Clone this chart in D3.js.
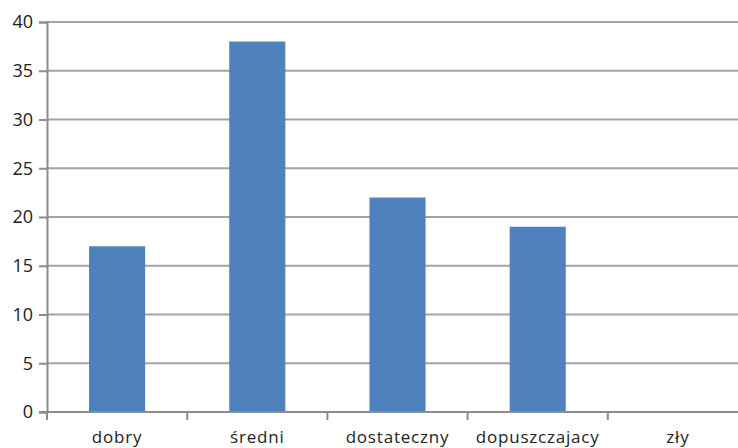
<!DOCTYPE html>
<html>
<head>
<meta charset="utf-8">
<script src="https://cdn.jsdelivr.net/npm/d3@7"></script>
<style>
  html, body { margin: 0; padding: 0; background: #fff; }
  svg { display: block; }
  text { font-family: "Open Sans", "Liberation Sans", sans-serif; fill: #222; }
</style>
</head>
<body>
<svg id="chart" width="738" height="448"></svg>
<script>
const categories = ["dobry", "średni", "dostateczny", "dopuszczajacy", "zły"];
const values = [17, 38, 22, 19, 0];
const yTicks = [0, 5, 10, 15, 20, 25, 30, 35, 40];

(function draw() {
  const svg = d3.select("#chart");
  const plotLeft = 47, plotRight = 748, plotTop = 22, plotBottom = 412;

  const x = d3.scaleBand().domain(categories).range([plotLeft, plotRight]).paddingInner(0).paddingOuter(0);
  const y = d3.scaleLinear().domain([0, 40]).range([plotBottom, plotTop]);

  // horizontal gridlines
  svg.append("g").selectAll("line").data(yTicks.filter(d => d > 0)).join("line")
    .attr("x1", plotLeft).attr("x2", 738)
    .attr("y1", d => y(d)).attr("y2", d => y(d))
    .attr("stroke", "#a3a3a3").attr("stroke-width", 2);

  // bars
  const barW = x.bandwidth() * 0.4;
  svg.append("g").selectAll("rect").data(values).join("rect")
    .attr("x", (d, i) => x(categories[i]) + (x.bandwidth() - barW) / 2)
    .attr("y", d => y(d))
    .attr("width", barW)
    .attr("height", d => plotBottom - y(d))
    .attr("fill", "#4f81bd");

  // y axis
  const yAxis = svg.append("g").attr("transform", `translate(${plotLeft},0)`)
    .call(d3.axisLeft(y).tickValues(yTicks).tickSize(8).tickPadding(6));
  yAxis.select(".domain").attr("stroke", "#8c8c8c").attr("stroke-width", 2);
  yAxis.selectAll(".tick line").attr("stroke", "#8c8c8c").attr("stroke-width", 2);
  yAxis.selectAll(".tick text").attr("font-size", 18).attr("fill", "#222")
    .style("font-family", '"Open Sans", "Liberation Sans", sans-serif');

  // x axis line
  svg.append("line").attr("x1", plotLeft - 8).attr("x2", 738)
    .attr("y1", plotBottom).attr("y2", plotBottom)
    .attr("stroke", "#8c8c8c").attr("stroke-width", 2);

  // category separator ticks
  svg.append("g").selectAll("line").data(categories).join("line")
    .attr("x1", d => x(d)).attr("x2", d => x(d))
    .attr("y1", plotBottom).attr("y2", plotBottom + 8)
    .attr("stroke", "#8c8c8c").attr("stroke-width", 2);

  // category labels
  svg.append("g").selectAll("text").data(categories).join("text")
    .attr("x", d => x(d) + x.bandwidth() / 2)
    .attr("y", 443)
    .attr("text-anchor", "middle")
    .attr("font-size", 17)
    .attr("letter-spacing", 0.8)
    .text(d => d);
})();
</script>
</body>
</html>
